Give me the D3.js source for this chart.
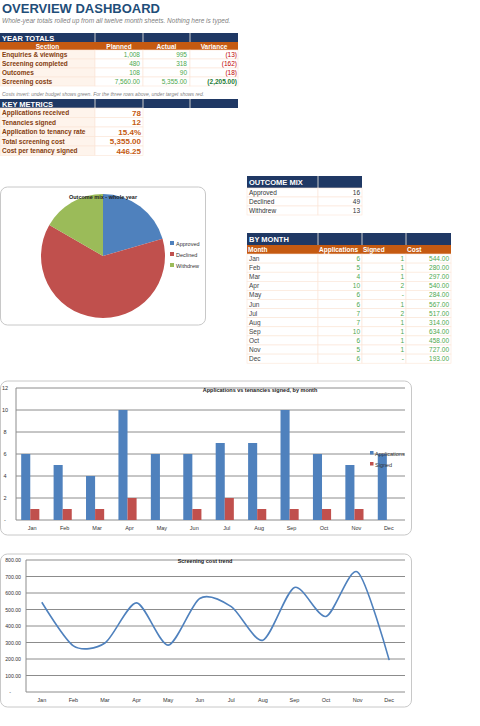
<!DOCTYPE html>
<html><head><meta charset="utf-8">
<script src="https://cdn.jsdelivr.net/npm/d3@7"></script>
<style>body{margin:0;background:#fff;font-family:Arial,"Liberation Sans",sans-serif}</style>
</head><body><svg id="c" width="480" height="726"></svg>
<script>
const months=["Jan","Feb","Mar","Apr","May","Jun","Jul","Aug","Sep","Oct","Nov","Dec"];
const applications=[6,5,4,10,6,6,7,7,10,6,5,6];
const signed=[1,1,1,2,0,1,2,1,1,1,1,0];
const cost=[544,280,297,540,284,567,517,314,634,458,727,193];
const outcomeLabels=["Approved","Declined","Withdrew"];
const outcomeValues=[16,49,13];
const yearSections=["Enquiries & viewings","Screening completed","Outcomes","Screening costs"];
const yearPlanned=["1,008","480","108","7,560.00"];
const yearActual=["995","318","90","5,355.00"];
const yearVariance=["(13)","(162)","(18)","(2,205.00)"];
const metricLabels=["Applications received","Tenancies signed","Application to tenancy rate","Total screening cost","Cost per tenancy signed"];
const metricValues=["78","12","15.4%","5,355.00","446.25"];
const barTicks=[0,2,4,6,8,10,12];
const costTicks=[0,100,200,300,400,500,600,700,800];

const NAVY="#1F3864",ORANGE="#C55A11",BORD="#FBE5D6",GREEN="#4EA84E",RED="#C00000",BLUE="#4F81BD",BRED="#C0504D",BGREEN="#9BBB59";
const svg=d3.select("#c");
const txt=(x,y,t,o={})=>svg.append("text").attr("x",x).attr("y",y).text(t)
  .attr("font-size",o.fs||7).attr("fill",o.fill||"#333").attr("font-weight",o.fw||"normal")
  .attr("font-style",o.fst||"normal").attr("text-anchor",o.a||"start");
const rect=(x,y,w,h,f,s)=>svg.append("rect").attr("x",x).attr("y",y).attr("width",w).attr("height",h).attr("fill",f).attr("stroke",s||"none").attr("stroke-width",0.6);

txt(2,13,"OVERVIEW DASHBOARD",{fs:13,fw:"bold",fill:"#1F4E79"});
txt(2,23,"Whole-year totals rolled up from all twelve month sheets. Nothing here is typed.",{fs:6.5,fst:"italic",fill:"#7f7f7f"});

// Year totals
const cx=[0,95,143,190,238];
rect(0,33,238,9,NAVY);
for(let i=1;i<4;i++) svg.append("line").attr("x1",cx[i]).attr("x2",cx[i]).attr("y1",33).attr("y2",42).attr("stroke","#c9c9c9");
txt(2,40.5,"YEAR TOTALS",{fs:7.5,fw:"bold",fill:"#fff"});
rect(0,42,238,8,ORANGE);
["Section","Planned","Actual","Variance"].forEach((h,i)=>txt((cx[i]+cx[i+1])/2,48.5,h,{fs:6.5,fw:"bold",fill:"#fff",a:"middle"}));
yearSections.forEach((s,r)=>{
  const y=50+r*9;
  rect(0,y,95,9,"#FEF4EC",BORD);
  for(let i=1;i<4;i++) rect(cx[i],y,cx[i+1]-cx[i],9,"#fff",BORD);
  txt(2,y+7,s,{fs:6.5,fw:"bold",fill:"#843C0C"});
  txt(cx[2]-3,y+7,yearPlanned[r],{fs:6.5,fill:GREEN,a:"end"});
  txt(cx[3]-3,y+7,yearActual[r],{fs:6.5,fill:GREEN,a:"end"});
  txt(cx[4]-1,y+7,yearVariance[r],{fs:6.5,fill:r==3?"#1E7B34":RED,fw:r==3?"bold":"normal",a:"end"});
});
txt(2,96,"Costs invert: under budget shows green. For the three rows above, under target shows red.",{fs:5,fst:"italic",fill:"#7f7f7f"});
rect(0,99,238,9,NAVY);
for(let i=1;i<4;i++) svg.append("line").attr("x1",cx[i]).attr("x2",cx[i]).attr("y1",99).attr("y2",108).attr("stroke","#c9c9c9");
txt(2,106.5,"KEY METRICS",{fs:7.5,fw:"bold",fill:"#fff"});
metricLabels.forEach((m,r)=>{
  const y=108+r*9.5;
  rect(0,y,95,9.5,"#FEF4EC",BORD); rect(95,y,48,9.5,"#fff",BORD);
  txt(2,y+7,m,{fs:6.5,fw:"bold",fill:"#843C0C"});
  txt(141,y+7.5,metricValues[r],{fs:8,fw:"bold",fill:ORANGE,a:"end"});
});

// Outcome mix table
rect(247,176,115,12,NAVY);
svg.append("line").attr("x1",318).attr("x2",318).attr("y1",176).attr("y2",188).attr("stroke","#c9c9c9");
txt(249,185,"OUTCOME MIX",{fs:7.5,fw:"bold",fill:"#fff"});
outcomeLabels.forEach((l,r)=>{const y=188+r*9;
  rect(247,y,71,9,"#fff",BORD);rect(318,y,44,9,"#fff",BORD);
  txt(249,y+7,l,{fs:6.5,fill:"#333"});txt(360,y+7,outcomeValues[r],{fs:6.5,fill:"#333",a:"end"});});

// By month table
const mx=[247,318,362,406,451];
rect(247,233,204,12,NAVY);
for(let i=1;i<4;i++) svg.append("line").attr("x1",mx[i]).attr("x2",mx[i]).attr("y1",233).attr("y2",245).attr("stroke","#c9c9c9");
txt(249,242,"BY MONTH",{fs:7.5,fw:"bold",fill:"#fff"});
rect(247,245,204,9,ORANGE);
["Month","Applications","Signed","Cost"].forEach((h,i)=>txt(mx[i]+1,252,h,{fs:6.5,fw:"bold",fill:"#fff"}));
months.forEach((m,r)=>{const y=254+r*9.1;
  for(let i=0;i<4;i++) rect(mx[i],y,mx[i+1]-mx[i],9.1,"#fff",BORD);
  txt(249,y+7,m,{fs:6.5,fill:"#444"});
  txt(mx[2]-2,y+7,applications[r],{fs:6.5,fill:GREEN,a:"end"});
  txt(mx[3]-2,y+7,signed[r]===0?"-":signed[r],{fs:6.5,fill:GREEN,a:"end"});
  txt(mx[4]-2,y+7,d3.format(",.2f")(cost[r]),{fs:6.5,fill:GREEN,a:"end"});});

// Pie
svg.append("rect").attr("x",0.5).attr("y",187).attr("width",205).attr("height",138).attr("rx",7).attr("fill","#fff").attr("stroke","#c8c8c8");
const pie=d3.pie().sort(null)(outcomeValues);
const arc=d3.arc().innerRadius(0).outerRadius(62);
const pcol=[BLUE,BRED,BGREEN];
svg.append("g").attr("transform","translate(103,256)").selectAll("path").data(pie).join("path").attr("d",arc).attr("fill",(d,i)=>pcol[i]);
txt(103,199,"Outcome mix - whole year",{fs:5.5,fw:"bold",fill:"#222",a:"middle"});
outcomeLabels.forEach((l,i)=>{rect(170,241+i*11,4,4,pcol[i]);txt(176,245.5+i*11,l,{fs:5.5,fill:"#333"});});

// Bar chart
svg.append("rect").attr("x",0.5).attr("y",381).attr("width",411).attr("height",154).attr("rx",7).attr("fill","#fff").attr("stroke","#c8c8c8");
const bx=d3.scaleBand().domain(months).range([16,405]).paddingInner(0).paddingOuter(0);
const by=d3.scaleLinear().domain([0,12]).range([520,388]);
barTicks.forEach(t=>{svg.append("line").attr("x1",16).attr("x2",405).attr("y1",by(t)).attr("y2",by(t)).attr("stroke","#8c8c8c").attr("stroke-width",1);
  txt(5,by(t)+2,t===0?"-":t,{fs:5.5,fill:"#333",a:"middle"});});
svg.append("line").attr("x1",16).attr("x2",16).attr("y1",388).attr("y2",520).attr("stroke","#8c8c8c");
const bw=bx.bandwidth()*0.28;
months.forEach((m,i)=>{
  const x0=bx(m)+bx.bandwidth()*0.16;
  rect(x0,by(applications[i]),bw,by(0)-by(applications[i]),BLUE);
  if(signed[i]>0) rect(x0+bw,by(signed[i]),bw,by(0)-by(signed[i]),BRED);
  txt(bx(m)+bx.bandwidth()/2,530,m,{fs:5.5,fill:"#333",a:"middle"});
});
txt(260,392,"Applications  vs tenancies signed, by month",{fs:5.5,fw:"bold",fill:"#222",a:"middle"});
[["Applications",BLUE],["Signed",BRED]].forEach((l,i)=>{rect(370,451+i*11,3.5,3.5,l[1]);txt(375,455.5+i*11,l[0],{fs:5.5,fill:"#333"});});

// Line chart
svg.append("rect").attr("x",0.5).attr("y",554).attr("width",411).attr("height",153).attr("rx",7).attr("fill","#fff").attr("stroke","#c8c8c8");
const lx=d3.scalePoint().domain(months).range([26,405]).padding(0.5);
const ly=d3.scaleLinear().domain([0,800]).range([692,560]);
costTicks.forEach(t=>{svg.append("line").attr("x1",26).attr("x2",405).attr("y1",ly(t)).attr("y2",ly(t)).attr("stroke","#8c8c8c").attr("stroke-width",1);
  txt(t===0?10:21,ly(t)+2,t===0?"-":d3.format(",.2f")(t),{fs:5.2,fill:"#333",a:t===0?"middle":"end"});});
svg.append("line").attr("x1",26).attr("x2",26).attr("y1",560).attr("y2",692).attr("stroke","#8c8c8c");
months.forEach(m=>txt(lx(m),702,m,{fs:5.5,fill:"#333",a:"middle"}));
svg.append("path").datum(cost).attr("fill","none").attr("stroke",BLUE).attr("stroke-width",1.6)
  .attr("d",d3.line().x((d,i)=>lx(months[i])).y(d=>ly(d)).curve(d3.curveCardinal.tension(0.2)));
txt(205,563,"Screening cost trend",{fs:5.5,fw:"bold",fill:"#222",a:"middle"});
</script></body></html>
